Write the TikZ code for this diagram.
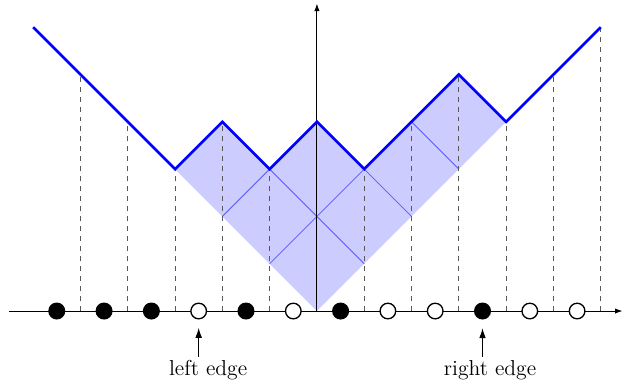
\documentclass[tikz,border=0pt]{standalone}
\usetikzlibrary{arrows.meta}
\begin{document}
\begin{tikzpicture}[x=1cm,y=1cm,
 fulldot/.style={circle,fill=black,inner sep=0pt,minimum size=0.36cm},
 opendot/.style={circle,draw=black,fill=white,line width=0.8pt,inner sep=0pt,minimum size=0.33cm},
 guide/.style={dashed,black!65,line width=0.5pt},
 profile/.style={blue,line width=1.6pt,line join=miter},
 cell/.style={blue!65,line width=0.45pt},
 axis/.style={line width=0.6pt,-{Latex[length=4.5pt,width=3.2pt]}},
 pointer/.style={line width=0.6pt,-{Latex[length=6pt,width=4pt]},shorten >=5pt},
 lab/.style={font=\fontsize{13}{15}\selectfont,anchor=base}]
\useasboundingbox (-6.70,-1.565) rectangle (6.47,6.575);
% shaded diagram
\fill[blue!20] (-3,3) -- (-2,4) -- (-1,3) -- (0,4) -- (1,3) -- (3,5) -- (4,4) -- (0,0) -- cycle;
\begin{scope}
\clip (-3,3) -- (-2,4) -- (-1,3) -- (0,4) -- (1,3) -- (3,5) -- (4,4) -- (0,0) -- cycle;
\foreach \k in {2,4,6} \draw[cell] (-6,\k+6) -- (6,\k-6);
\foreach \k in {2,4} \draw[cell] (-6,\k-6) -- (6,\k+6);
\end{scope}
% dashed guides
\foreach \x/\y in {-5/5,-4/4,-3/3,-2/4,-1/3,1/3,2/4,3/5,4/4,5/5,6/6}
  \draw[guide] (\x,0) -- (\x,\y);
% axes
\coordinate (xl) at (-6.5,0);
\coordinate (xr) at (6.46,0);
\coordinate (o) at (0,0);
\coordinate (yt) at (0,6.5);
\draw[axis] (xl) -- (xr);
\draw[axis] (o) -- (yt);
% profile
\draw[profile] (-6,6) -- (-3,3) -- (-2,4) -- (-1,3) -- (0,4) -- (1,3) -- (3,5) -- (4,4) -- (6,6);
% Maya dots
\foreach \x/\t [count=\i] in {-5.5/fulldot,-4.5/fulldot,-3.5/fulldot,-2.5/opendot,-1.5/fulldot,-0.5/opendot,0.5/fulldot,1.5/opendot,2.5/opendot,3.5/fulldot,4.5/opendot,5.5/opendot}
  \node[\t] (d\i) at (\x,0) {};
% labels
\node[lab] (le) at (-2.3,-1.37) {left edge};
\coordinate (lt) at (-2.5,-0.97);
\draw[pointer] (lt) -- (d4);
\node[lab] (re) at (3.66,-1.37) {right edge};
\coordinate (rt) at (3.5,-0.97);
\draw[pointer] (rt) -- (d10);
\end{tikzpicture}
\end{document}
